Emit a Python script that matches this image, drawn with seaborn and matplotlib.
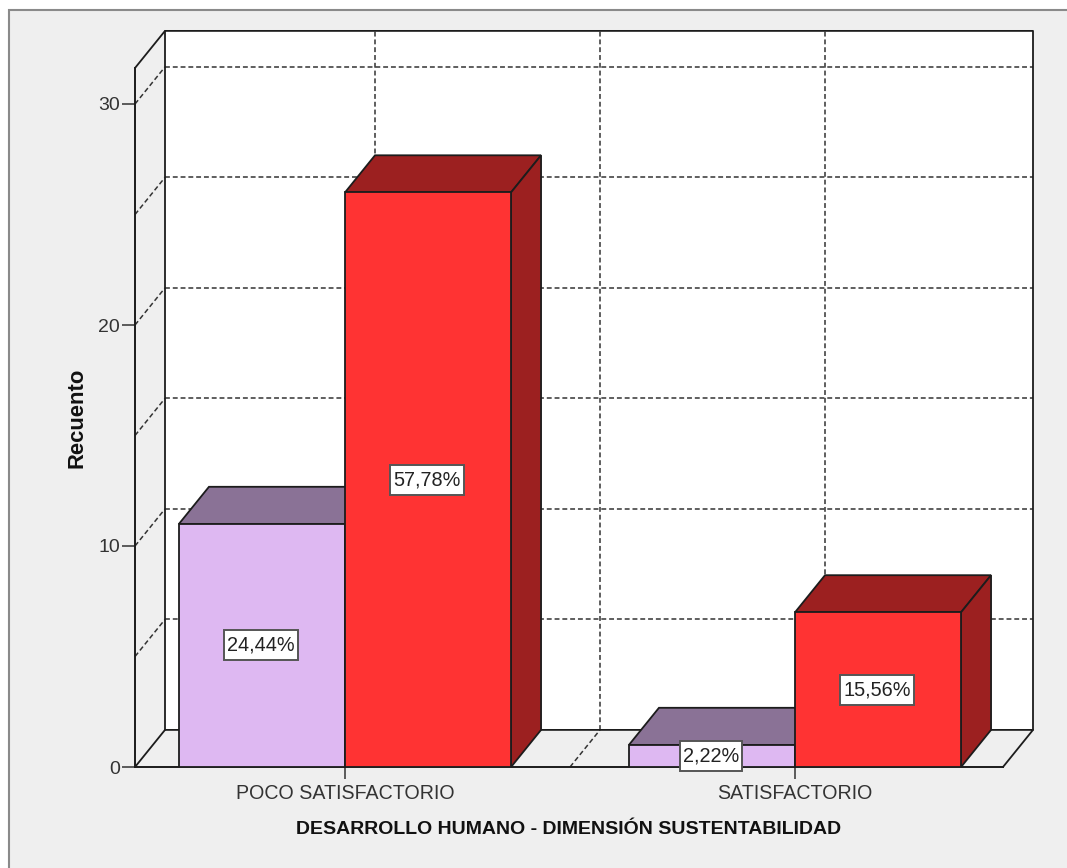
import matplotlib
matplotlib.use("Agg")
import matplotlib.pyplot as plt
from matplotlib.patches import Polygon, Rectangle
import pandas as pd
import seaborn as sns

categories = ["POCO SATISFACTORIO", "SATISFACTORIO"]
series_names = ["Grupo A", "Grupo B"]
series_a = [11, 1]
series_b = [26, 7]
labels_a = ["24,44%", "2,22%"]
labels_b = ["57,78%", "15,56%"]
y_ticks = [0, 10, 20, 30]
grid_levels = [5, 10, 15, 20, 25, 30]
x_title = "DESARROLLO HUMANO - DIMENSIÓN SUSTENTABILIDAD"
y_title = "Recuento"

FRONT = ["#DEB8F2", "#FF3333"]
TOP = ["#8A7296", "#9C2020"]
SIDE = ["#8A7296", "#9C2020"]
EDGE = "#1c1c1c"
BG = "#EFEFEF"

W, H = 1067, 868
sns.set_theme(style="white")
plt.rcParams["font.family"] = ["Liberation Sans", "DejaVu Sans"]

fig = plt.figure(figsize=(W / 100, H / 100), dpi=100, facecolor="white")
fig.add_artist(Rectangle((8.5 / W, -0.05), 1.1, 1 - 9.5 / H + 0.05, transform=fig.transFigure,
                         facecolor=BG, edgecolor="#8a8a8a", linewidth=1.5, zorder=-1))
ax = fig.add_axes([135 / W, (H - 767) / H, 868 / W, 699 / H])
ax.set_facecolor("none")

df = pd.DataFrame({
    "cat": categories * 2,
    "serie": [series_names[0]] * 2 + [series_names[1]] * 2,
    "valor": series_a + series_b,
})
sns.barplot(data=df, x="cat", y="valor", hue="serie", hue_order=series_names,
            order=categories, palette=FRONT, width=0.738, gap=0, saturation=1,
            legend=False, edgecolor=EDGE, linewidth=1.3, ax=ax, zorder=5)

PX_X = 450.0
PX_Y = 22.1
x0, x1 = (135 - 345) / PX_X, (1003 - 345) / PX_X
y1 = 699 / PX_Y
dx, dy = 30 / PX_X, 37.1 / PX_Y
ax.set_xlim(x0, x1)
ax.set_ylim(0, y1)

# walls
ax.add_patch(Rectangle((x0 + dx, dy), x1 - x0, y1, facecolor="white", edgecolor="none",
                       clip_on=False, zorder=0.5))


def line(xs, ys, dashed=False, lw=1.3):
    if dashed:
        ax.plot(xs, ys, color="#333333", lw=1.1, dashes=(3.2, 1.9), clip_on=False, zorder=1)
    else:
        ax.plot(xs, ys, color=EDGE, lw=lw, clip_on=False, zorder=1.5, solid_capstyle="round")


for v in grid_levels:
    line([x0 + dx, x1 + dx], [v + dy, v + dy], dashed=True)
    line([x0, x0 + dx], [v, v + dy], dashed=True)
for c in (0, 0.5, 1):
    line([c + dx, c + dx], [dy, y1 + dy], dashed=True)
    line([c, c + dx], [0, dy], dashed=True)

line([x0, x0 + dx, x1 + dx, x1 + dx], [y1, y1 + dy, y1 + dy, dy])
line([x0 + dx, x0 + dx], [dy, y1 + dy])
line([x0, x0 + dx, x1 + dx, x1], [0, dy, dy, 0])

# bar depth faces and value labels
bars = [p for p in ax.patches if isinstance(p, Rectangle) and p.get_height() > 0 and p.get_zorder() == 5]
bars = sorted(bars, key=lambda p: p.get_x())
texts = [labels_a[0], labels_b[0], labels_a[1], labels_b[1]]
renderer = fig.canvas.get_renderer()
nudge = 1 / PX_X
for i, (b, t) in enumerate(zip(bars, texts)):
    k = i % 2
    l, w, h = b.get_x(), b.get_width(), b.get_height()
    ax.add_patch(Polygon([(l, h), (l + dx, h + dy), (l + w + dx, h + dy), (l + w, h)],
                         facecolor=TOP[k], edgecolor=EDGE, lw=1.3, zorder=3, clip_on=False))
    ax.add_patch(Polygon([(l + w, 0), (l + w + dx, dy), (l + w + dx, h + dy), (l + w, h)],
                         facecolor=SIDE[k], edgecolor=EDGE, lw=1.3, zorder=3, clip_on=False))
    cx = l + w / 2 - nudge
    label = ax.text(cx, h / 2, t, ha="center", va="center", fontsize=14.3,
                    color="#222222", zorder=7)
    box_w = (label.get_window_extent(renderer).width + 6) / PX_X
    box_h = 30 / PX_Y
    ax.add_patch(Rectangle((cx - box_w / 2, h / 2 - box_h / 2), box_w, box_h,
                           facecolor="white", edgecolor="#555555", linewidth=1.4, zorder=6,
                           clip_on=False))

for s in ("top", "right"):
    ax.spines[s].set_visible(False)
for s in ("left", "bottom"):
    ax.spines[s].set_visible(True)
    ax.spines[s].set_color(EDGE)
    ax.spines[s].set_linewidth(1.4)

ax.set_yticks(y_ticks)
ax.tick_params(axis="y", left=True, length=9.4, width=1.1, color="#333333", pad=1.5,
               labelsize=14, labelcolor="#333333")
ax.tick_params(axis="x", bottom=True, length=8.6, width=1.1, color="#333333", pad=3.5,
               labelsize=14.1, labelcolor="#333333")
ax.set_xlabel(x_title, fontsize=14, fontweight="bold", color="#111111")
ax.set_ylabel(y_title, fontsize=15.8, fontweight="bold", color="#111111")
ax.xaxis.set_label_coords(0.5, -(829 - 767) / 699, transform=ax.transAxes)
ax.xaxis.label.set_va("center")
ax.yaxis.set_label_coords((77 - 135) / 868, 0.5, transform=ax.transAxes)
ax.yaxis.label.set_va("center")

fig.savefig("out.png", dpi=100, facecolor=fig.get_facecolor())
